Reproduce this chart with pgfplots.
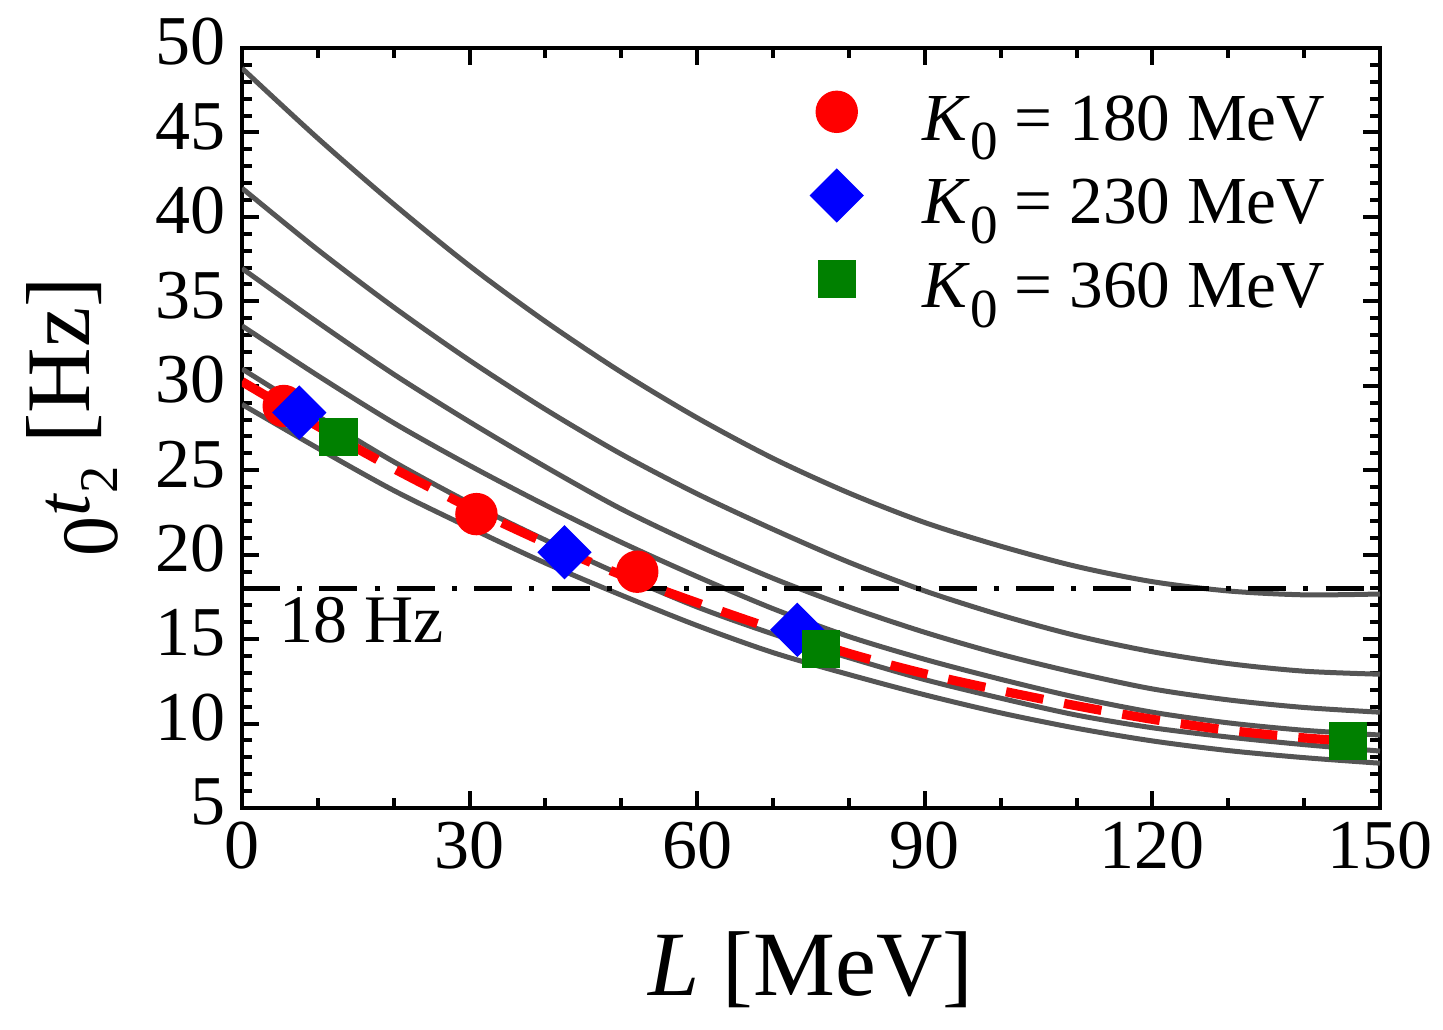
\documentclass[border=0pt]{standalone}
\usepackage{fontspec}
\setmainfont{Liberation Serif}
\usepackage{graphicx}
\usepackage{pgfplots}
\pgfplotsset{compat=1.18}
\definecolor{curvegray}{RGB}{85,85,85}
\definecolor{mgreen}{RGB}{0,128,0}
\begin{document}
\begin{tikzpicture}
\begin{axis}[
  scale only axis, width=284.5pt, height=190pt,
  xmin=0, xmax=150, ymin=5, ymax=50,
  xtick={0,30,...,150}, ytick={5,10,...,50},
  minor x tick num=2, minor y tick num=4,
  tick align=inside,
  major tick length=4.3pt, minor tick length=2.5pt,
  every tick/.style={black, line width=1pt},
  axis line style={line width=1.2pt},
  tick label style={font=\fontsize{17.5}{20}\selectfont},
  /pgf/number format/assume math mode=true,
  xticklabel style={inner sep=0pt, yshift=-3.4pt},
  yticklabel style={inner sep=0pt, xshift=-3.8pt, yshift=1.5pt},
  xlabel={\textit{L} [MeV]},
  xlabel style={at={(axis description cs:0.5,-0.2461)}, anchor=base, inner sep=0pt, font=\fontsize{23}{27}\selectfont},
  ylabel={\raisebox{-0.3em}{\scalebox{0.88}{0}}\scalebox{0.85}{\textit{t}}\raisebox{-0.3em}{\scalebox{0.6}{2}} [Hz]},
  ylabel style={at={(axis description cs:-0.1336,0.5145)}, anchor=base, inner sep=0pt, font=\fontsize{22.7}{27}\selectfont},
  legend style={draw=none, fill=none, at={(0.4938,0.9526)}, anchor=north west, inner sep=0pt,
    font=\fontsize{16.8}{20}\selectfont, row sep=5.6pt, /tikz/column sep=13.5pt, nodes={inner sep=0pt}},
  legend cell align=left,
  mylegimg/.style={legend image code/.code={\path[draw=none,fill=none] (-8pt,-3pt) rectangle (8pt,9pt); \draw[##1] plot coordinates {(0pt,2.25pt)};}},
]
% gray curves
\addplot[curvegray, line width=1.25pt, smooth, forget plot] coordinates {(0,48.8)(10,44.65)(20,40.75)(30,37.1)(40,33.8)(50,30.8)(60,28.1)(70,25.7)(80,23.65)(90,21.9)(100,20.5)(110,19.3)(120,18.4)(130,17.85)(140,17.62)(150,17.67)};
\addplot[curvegray, line width=1.25pt, smooth, forget plot] coordinates {(0,41.7)(10,38.05)(20,34.65)(30,31.5)(40,28.6)(50,25.95)(60,23.6)(70,21.5)(80,19.55)(90,17.85)(100,16.42)(110,15.2)(120,14.25)(130,13.55)(140,13.1)(150,12.92)};
\addplot[curvegray, line width=1.25pt, smooth, forget plot] coordinates {(0,36.95)(10,33.75)(20,30.68)(30,27.86)(40,25.2)(50,22.7)(60,20.55)(70,18.6)(80,16.9)(90,15.4)(100,14.1)(110,13.0)(120,12.05)(130,11.4)(140,10.95)(150,10.67)};
\addplot[curvegray, line width=1.25pt, smooth, forget plot] coordinates {(0,33.55)(10,30.6)(20,27.8)(30,25.28)(40,22.93)(50,20.73)(60,18.7)(70,16.8)(80,15.15)(90,13.8)(100,12.62)(110,11.55)(120,10.67)(130,10.04)(140,9.6)(150,9.32)};
\addplot[curvegray, line width=1.25pt, smooth, forget plot] coordinates {(0,31.0)(10,28.2)(20,25.5)(30,23.06)(40,20.86)(50,18.8)(60,16.9)(70,15.3)(80,13.9)(90,12.6)(100,11.5)(110,10.5)(120,9.75)(130,9.2)(140,8.75)(150,8.37)};
\addplot[curvegray, line width=1.25pt, smooth, forget plot] coordinates {(0,28.9)(10,26.3)(20,23.8)(30,21.6)(40,19.5)(50,17.6)(60,15.8)(70,14.2)(80,12.9)(90,11.7)(100,10.63)(110,9.72)(120,8.97)(130,8.4)(140,7.98)(150,7.65)};
% 18 Hz line
\addplot[black, line width=1.25pt, dash pattern=on 9.5pt off 4.3pt on 1.25pt off 4.3pt, forget plot] coordinates {(0,18)(150,18)};
% red dashed fit
\addplot[red, line width=2.3pt, dash pattern=on 9.5pt off 5.3pt, smooth, forget plot] coordinates {(0,30.25)(10,27.6)(20,25.1)(30,22.8)(40,20.7)(50,18.8)(60,17.15)(70,15.6)(80,14.15)(90,12.95)(100,11.95)(110,11.05)(120,10.25)(130,9.6)(140,9.15)(145.8,8.97)};
% markers
\addplot[only marks, mark=*, mark size=5.1pt, color=red, mylegimg] coordinates {(5.5,28.8)(30.9,22.4)(52.1,18.99)};
\addlegendentry{\textit{K}\raisebox{-0.29em}{\scalebox{0.82}{0}} = 180 MeV}
\addplot[only marks, mark=square*, mark size=4.6pt, mark options={rotate=45}, color=blue, mylegimg] coordinates {(7.55,28.41)(42.5,20.14)(73.2,15.55)};
\addlegendentry{\textit{K}\raisebox{-0.29em}{\scalebox{0.82}{0}} = 230 MeV}
\addplot[only marks, mark=square*, mark size=4.6pt, color=mgreen, mylegimg] coordinates {(12.7,26.95)(76.3,14.4)(145.8,8.98)};
\addlegendentry{\textit{K}\raisebox{-0.29em}{\scalebox{0.82}{0}} = 360 MeV}
\node[anchor=base west, inner sep=0pt, font=\fontsize{17}{20}\selectfont] at (axis cs:4.8,14.77) {18 Hz};
\end{axis}
\pgfresetboundingbox
\path[use as bounding box] ([xshift=-60.5pt,yshift=-55.5pt]current axis.south west) rectangle ([xshift=15.75pt,yshift=12pt]current axis.north east);
\end{tikzpicture}
\end{document}
